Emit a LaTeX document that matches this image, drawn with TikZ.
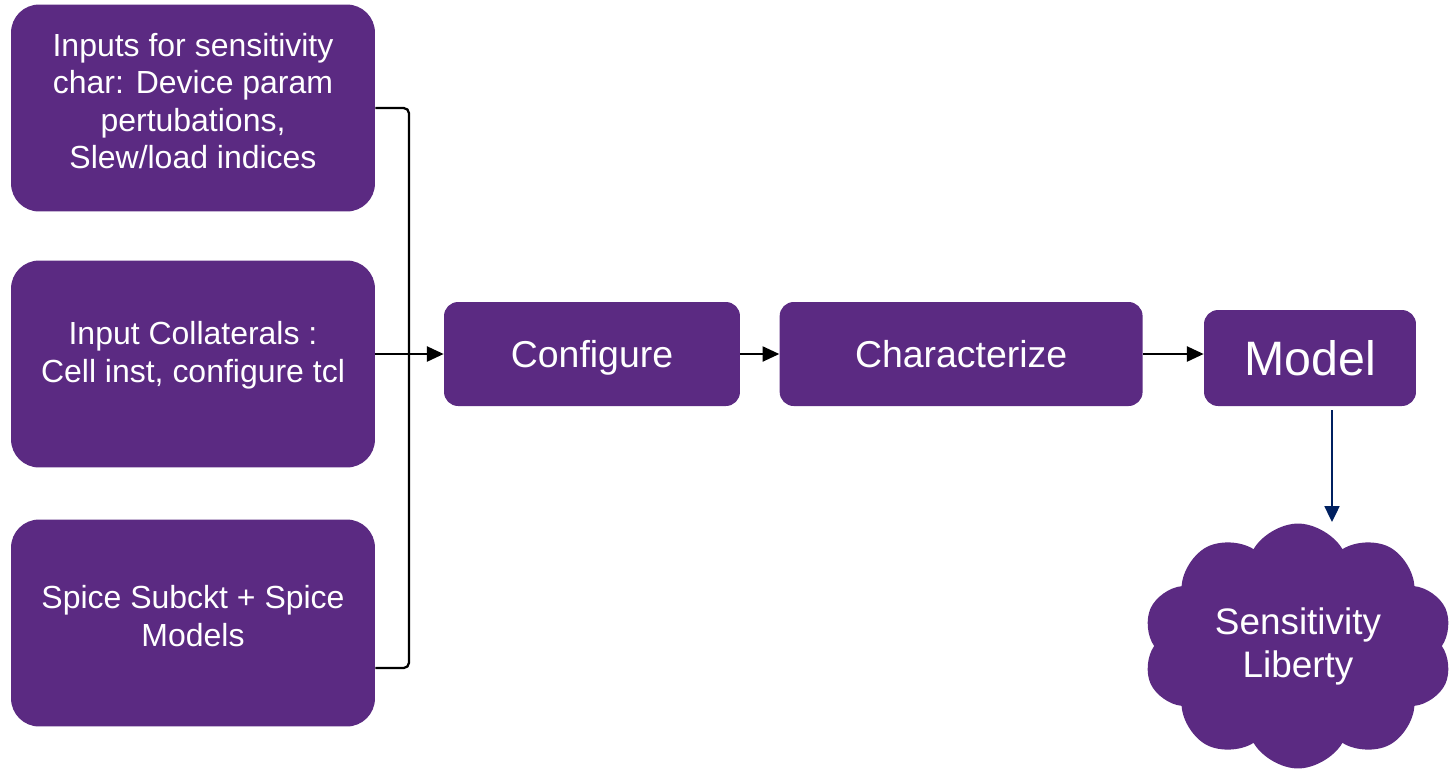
\documentclass[tikz,border=0pt]{standalone}
\usepackage{fontspec}
\setmainfont{Liberation Sans}
\usetikzlibrary{arrows.meta,positioning,shapes.symbols}
\definecolor{flowpurple}{HTML}{5B2A82}
\definecolor{flownavy}{HTML}{002060}

\begin{document}
\begin{tikzpicture}[x=0.02cm,y=-0.02cm,>={Triangle[length=9.5pt,width=8.5pt]},
    inbox/.style={fill=flowpurple,rounded corners=16pt,minimum width=7.28cm,minimum height=4.14cm},
    inlabel/.style={text=white,align=center,font=\fontsize{18.2}{21.4}\selectfont},
    stepbox/.style={fill=flowpurple,text=white,rounded corners=8pt,minimum height=2.08cm,
      text height=15.3pt,text depth=0pt,font=\fontsize{21.3}{25}\selectfont},
    link/.style={->,line width=1.3pt}]
  \useasboundingbox (0,0) rectangle (1455,769);
  \node (inp) [inbox] at (193,108) {};
  \node (inptext) [inlabel] at (193,101) {Inputs for sensitivity\\char: Device param\\pertubations,\\Slew/load indices};
  \node (col) [inbox] at (193,364) {};
  \node (coltext) [inlabel] at (193,355) {Input Collaterals :\\Cell inst, configure tcl};
  \node (spi) [inbox] at (193,623) {};
  \node (spitext) [inlabel] at (193,616) {Spice Subckt + Spice\\Models};
  \node (cfg) [stepbox,minimum width=5.92cm] at (592,354) {Configure};
  \node (chr) [stepbox,minimum width=7.26cm,right=0.78cm of cfg] {Characterize};
  \node (mdl) [stepbox,minimum width=4.24cm,minimum height=1.92cm,text height=19.8pt,
    font=\fontsize{27.5}{32}\selectfont] at (1310,358) {Model};
  \node (lib) [cloud,cloud puffs=10,cloud puff arc=120,aspect=1.3,fill=flowpurple,text=white,
    minimum width=6.2cm,minimum height=4.9cm,align=center,font=\fontsize{21}{24.5}\selectfont] at (1298,646) {Sensitivity\\Liberty};
  % bracket joining the inputs
  \coordinate (btop) at (409,108);
  \coordinate (bbot) at (409,668);
  \coordinate (bmid) at (409,354);
  \draw[line width=1.3pt,rounded corners=3pt] (inp.east |- btop) -- (btop) -- (bbot) -- (spi.east |- bbot);
  \draw[link] (col.east |- bmid) -- (cfg.west);
  \draw[link] (cfg) -- (chr);
  \draw[link] (chr.east) -- (mdl.west |- chr.east);
  \coordinate (mdown) at (1332,410);
  \coordinate (lup) at (1332,522);
  \draw[->,flownavy,line width=1.1pt,>={Triangle[length=9pt,width=8.5pt]}] (mdown) -- (lup);
\end{tikzpicture}
\end{document}
